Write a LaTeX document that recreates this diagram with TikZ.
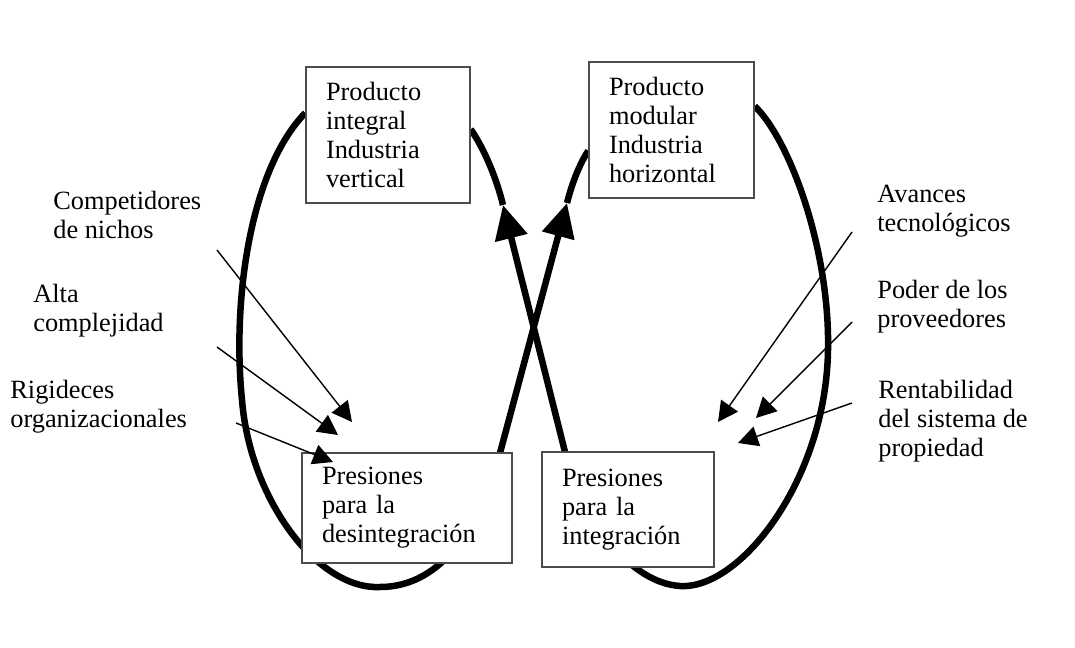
\documentclass[tikz,border=0pt]{standalone}
\usepackage{fontspec}
\setmainfont{Liberation Serif}
\usetikzlibrary{arrows.meta,backgrounds}

\tikzset{
  loopline/.style={line width=3.7pt},
  bigtip/.style={-{Triangle[length=0.68cm,width=0.64cm]}},
  thinarrow/.style={line width=0.8pt, -{Triangle[length=0.4cm,width=0.41cm]}},
  box/.style={draw=black!70, line width=0.8pt, fill=white, align=left,
    inner xsep=0.4cm, inner ysep=0pt, font=\fontsize{15}{16.5}\selectfont},
  lbl/.style={anchor=north west, align=left, inner sep=0pt,
    font=\fontsize{15}{16.5}\selectfont}
}

\begin{document}
\begin{tikzpicture}[x=0.02cm, y=-0.02cm]
  \useasboundingbox (0,0) rectangle (1075,648);

  % the four boxes
  \node[box, text width=2.48cm, minimum height=2.72cm] (pint) at (388,135)
    {Producto\\integral\\Industria\\vertical};
  \node[box, text width=2.5cm, minimum height=2.72cm] (pmod) at (671.5,130)
    {Producto\\modular\\Industria\\horizontal};
  \node[box, text width=3.4cm, minimum height=2.2cm] (pdes) at (407,508)
    {Presiones\\para la\\desintegración};
  \node[box, text width=2.64cm, minimum height=2.3cm] (pinteg) at (628,509.5)
    {Presiones\\para la\\integración};

  \coordinate (tipA) at (567,203);
  \coordinate (tipB) at (503,205);

  % the two loops, behind the boxes
  \begin{pgfonlayer}{background}
    \draw[loopline, bigtip] (pint.165) .. controls (250,170) and (232,300) .. (242,400)
      .. controls (250,500) and (318,590) .. (380,587)
      .. controls (445,587) and (482,520) .. (500,453) -- (tipA);
    \draw[loopline] (tipA) .. controls (572,183) and (580,163) .. (pmod.194);

    \draw[loopline, bigtip] (pmod.16) .. controls (790,140) and (830,250) .. (828,350)
      .. controls (826,480) and (740,590) .. (680,586)
      .. controls (630,583) and (582,519) .. (565,452) -- (tipB);
    \draw[loopline] (tipB) .. controls (497,180) and (485,150) .. (pint.4);
  \end{pgfonlayer}

  % pressures from the left
  \node[lbl] (nichos) at (53,191) {Competidores\\de nichos};
  \node[lbl] (alta) at (33,284) {Alta\\complejidad};
  \node[lbl] (rigid) at (10,380) {Rigideces\\organizacionales};
  \coordinate (nichos-s) at (217,250);
  \coordinate (nichos-e) at (352,422);
  \coordinate (alta-s) at (217,347);
  \coordinate (alta-e) at (338,435);
  \coordinate (rigid-s) at (236,423);
  \coordinate (rigid-e) at (333,462);
  \draw[thinarrow] (nichos-s) -- (nichos-e);
  \draw[thinarrow] (alta-s) -- (alta-e);
  \draw[thinarrow] (rigid-s) -- (rigid-e);

  % pressures from the right
  \node[lbl] (avances) at (877,185) {Avances\\tecnológicos};
  \node[lbl] (poder) at (877,280) {Poder de los\\proveedores};
  \node[lbl] (rentab) at (878,380) {Rentabilidad\\del sistema de\\propiedad};
  \coordinate (avances-s) at (852,232);
  \coordinate (avances-e) at (718,422);
  \coordinate (poder-s) at (852,322);
  \coordinate (poder-e) at (756,418);
  \coordinate (rentab-s) at (852,403);
  \coordinate (rentab-e) at (738,443);
  \draw[thinarrow] (avances-s) -- (avances-e);
  \draw[thinarrow] (poder-s) -- (poder-e);
  \draw[thinarrow] (rentab-s) -- (rentab-e);
\end{tikzpicture}
\end{document}
